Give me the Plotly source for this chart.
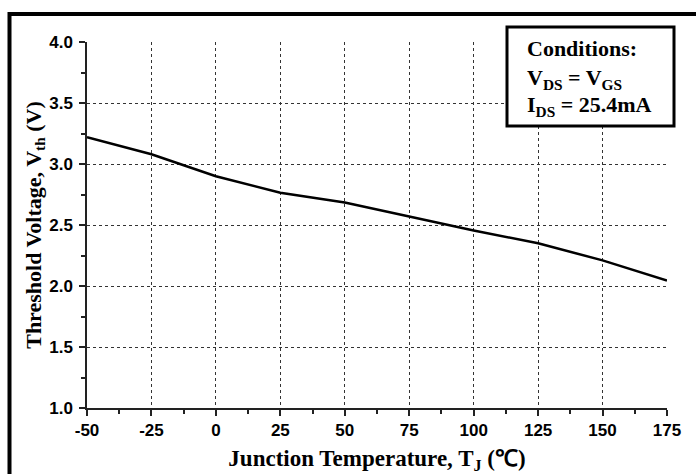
import plotly.graph_objects as go

temperature = [-50, -25, 0, 25, 50, 75, 100, 125, 150, 175]
vth = [3.22, 3.08, 2.90, 2.765, 2.685, 2.57, 2.455, 2.35, 2.21, 2.045]

x_ticks = [-50, -25, 0, 25, 50, 75, 100, 125, 150, 175]
y_ticks = [1.0, 1.5, 2.0, 2.5, 3.0, 3.5, 4.0]
y_ticklabels = ["1.0", "1.5", "2.0", "2.5", "3.0", "3.5", "4.0"]

W, H = 696, 474
ML, MR, MT, MB = 87, 29, 42, 66
PW, PH = W - ML - MR, H - MT - MB


def px(x):
    return (x - ML) / PW


def py(y):
    return (H - MB - y) / PH


fig = go.Figure()
fig.add_trace(go.Scatter(x=temperature, y=vth, mode="lines",
                         line=dict(color="black", width=2.5), showlegend=False))

tickfont = dict(family="Liberation Sans, Arial", size=17, color="black", weight="bold")
titlefont = dict(family="Liberation Serif, Times New Roman", size=22, color="black", weight="bold")
xtitlefont = dict(family="Liberation Serif, Times New Roman", size=23, color="black", weight="bold")

fig.update_xaxes(range=[-50, 175], tickvals=x_ticks, ticktext=[str(t) for t in x_ticks],
                 showline=True, linecolor="#222", linewidth=1.5, ticks="outside",
                 ticklen=6, tickcolor="#222", tickwidth=1.5, tickfont=tickfont,
                 showgrid=True, gridcolor="#333", griddash="dot", gridwidth=1.4,
                 zeroline=False, mirror=False, automargin=False,
                 minor=dict(ticks="outside", ticklen=4, dtick=12.5, tick0=-50, tickcolor="#222", showgrid=False),
                 title=dict(text="Junction Temperature, T<sub>J</sub> (℃)", font=xtitlefont, standoff=12))
fig.update_yaxes(range=[1.0, 4.0], tickvals=y_ticks, ticktext=y_ticklabels,
                 showline=True, linecolor="#222", linewidth=1.5, ticks="outside",
                 ticklen=6, tickcolor="#222", tickwidth=1.5, tickfont=tickfont,
                 ticklabelstandoff=3, automargin=False,
                 showgrid=True, gridcolor="#333", griddash="dot", gridwidth=1.4,
                 zeroline=False, mirror=False,
                 minor=dict(ticks="outside", ticklen=4, dtick=0.25, tick0=1.0, tickcolor="#222", showgrid=False),
                 title=dict(text="Threshold Voltage, V<sub>th</sub> (V)", font=titlefont, standoff=2))

# outer frame
fig.add_shape(type="rect", xref="paper", yref="paper",
              x0=px(9.5), x1=px(720), y0=py(14), y1=py(500),
              line=dict(color="black", width=4), layer="above")

# conditions box
fig.add_shape(type="rect", xref="paper", yref="paper",
              x0=px(507), x1=px(674), y0=py(27), y1=py(126),
              line=dict(color="black", width=3), fillcolor="white", layer="above")
boxfont = dict(family="Liberation Serif, Times New Roman", size=22, color="black", weight="bold")
lines = ["Conditions:", "V<sub>DS</sub> = V<sub>GS</sub>", "I<sub>DS</sub> = 25.4mA"]
ys = [48, 79, 106]
for t, yy in zip(lines, ys):
    fig.add_annotation(xref="paper", yref="paper", x=px(525), y=py(yy), text=t,
                       showarrow=False, xanchor="left", yanchor="middle", font=boxfont)

fig.update_layout(width=W, height=H, margin=dict(l=ML, r=MR, t=MT, b=MB),
                  paper_bgcolor="white", plot_bgcolor="white")

fig.write_html("out.html")
